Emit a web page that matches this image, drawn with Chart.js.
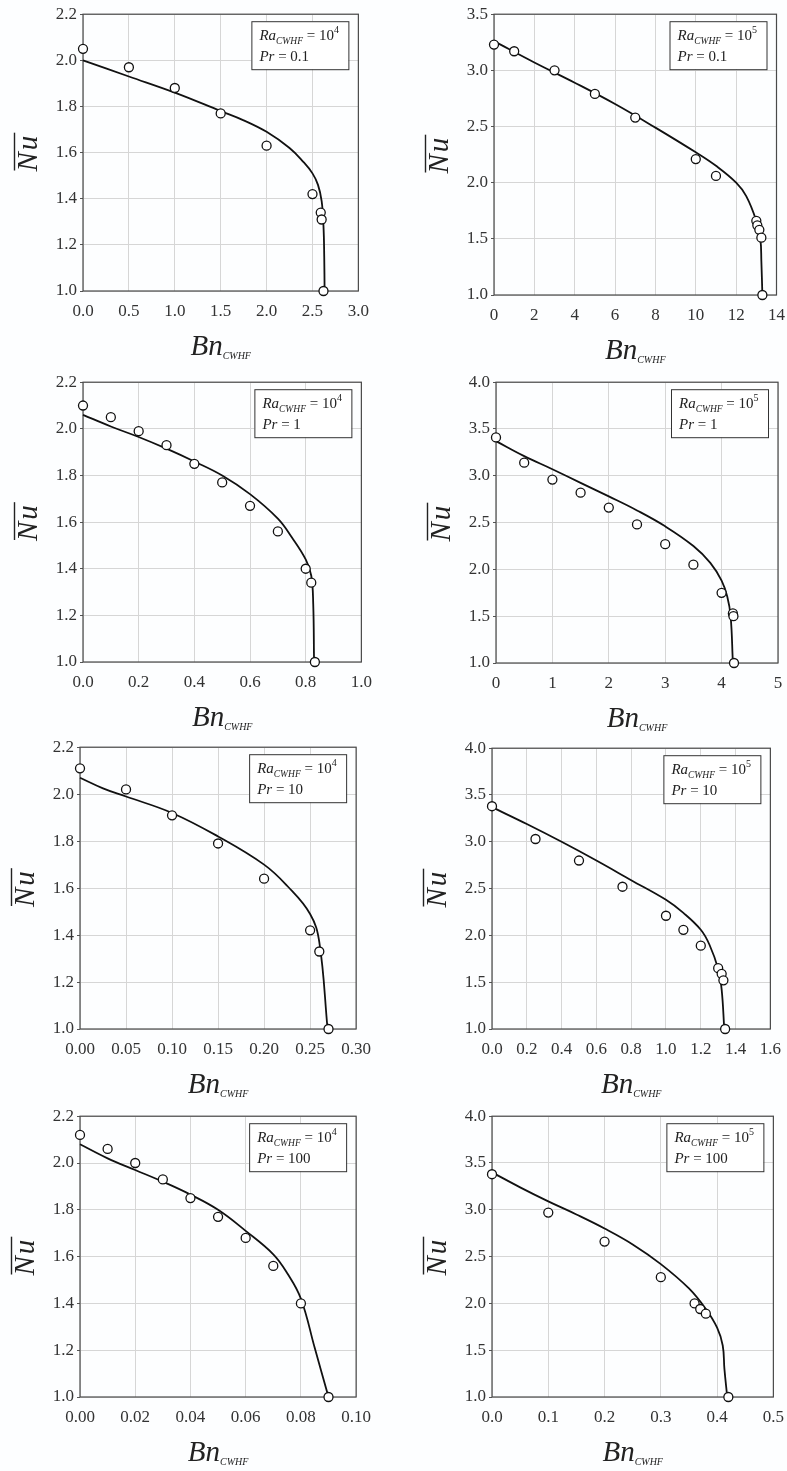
<!DOCTYPE html>
<html>
<head>
<meta charset="utf-8">
<script src="https://cdn.jsdelivr.net/npm/chart.js@4.4.1/dist/chart.umd.min.js"></script>
<style>
	html, body { margin: 0; padding: 0; background: #fdfeff; }
	body { width: 787px; height: 1471px; position: relative; overflow: hidden; }
	canvas { position: absolute; }
</style>
</head>
<body>
<script>
// values: circles = simulation, line = correlation
const bnA = [0, 0.5, 1.0, 1.5, 2.0, 2.5, 2.59, 2.6, 2.62];
const nuA = [2.05, 1.97, 1.88, 1.77, 1.63, 1.42, 1.34, 1.31, 1.0];
const bnFitA = [0, 0.5, 1.0, 1.5, 1.75, 2.0, 2.25, 2.4, 2.5, 2.56, 2.6, 2.62, 2.628, 2.632];
const nuFitA = [2.0, 1.93, 1.86, 1.78, 1.74, 1.69, 1.62, 1.56, 1.51, 1.46, 1.39, 1.28, 1.15, 1.0];

const bnB = [0, 1, 3, 5, 7, 10, 11, 13, 13.05, 13.15, 13.25, 13.3];
const nuB = [3.23, 3.17, 3.0, 2.79, 2.58, 2.21, 2.06, 1.66, 1.62, 1.58, 1.51, 1.0];
const bnFitB = [0, 2, 4, 6, 8, 10, 11, 12, 12.5, 13, 13.2, 13.25, 13.3];
const nuFitB = [3.26, 3.07, 2.89, 2.70, 2.49, 2.27, 2.15, 2.0, 1.88, 1.66, 1.5, 1.3, 1.0];

const bnC = [0, 0.1, 0.2, 0.3, 0.4, 0.5, 0.6, 0.7, 0.8, 0.82, 0.833];
const nuC = [2.10, 2.05, 1.99, 1.93, 1.85, 1.77, 1.67, 1.56, 1.40, 1.34, 1.0];
const bnFitC = [0, 0.1, 0.2, 0.3, 0.4, 0.5, 0.6, 0.7, 0.75, 0.8, 0.82, 0.827, 0.83];
const nuFitC = [2.06, 2.01, 1.965, 1.915, 1.86, 1.80, 1.72, 1.615, 1.535, 1.44, 1.37, 1.25, 1.0];

const bnD = [0, 0.5, 1, 1.5, 2, 2.5, 3, 3.5, 4, 4.2, 4.21, 4.22];
const nuD = [3.41, 3.14, 2.96, 2.82, 2.66, 2.48, 2.27, 2.05, 1.75, 1.53, 1.50, 1.0];
const bnFitD = [0, 0.5, 1, 1.5, 2, 2.5, 3, 3.5, 3.8, 4, 4.1, 4.16, 4.2];
const nuFitD = [3.37, 3.21, 3.07, 2.925, 2.78, 2.63, 2.46, 2.25, 2.07, 1.88, 1.71, 1.5, 1.0];

const bnE = [0, 0.05, 0.10, 0.15, 0.20, 0.25, 0.26, 0.27];
const nuE = [2.11, 2.02, 1.91, 1.79, 1.64, 1.42, 1.33, 1.0];
const bnFitE = [0, 0.025, 0.05, 0.1, 0.15, 0.2, 0.225, 0.25, 0.26, 0.269];
const nuFitE = [2.07, 2.025, 1.99, 1.92, 1.82, 1.70, 1.61, 1.49, 1.37, 1.0];

const bnF = [0, 0.25, 0.5, 0.75, 1.0, 1.1, 1.2, 1.3, 1.32, 1.33, 1.34];
const nuF = [3.38, 3.03, 2.80, 2.52, 2.21, 2.06, 1.89, 1.65, 1.59, 1.52, 1.0];
const bnFitF = [0, 0.2, 0.4, 0.6, 0.8, 1.0, 1.1, 1.2, 1.25, 1.3, 1.32, 1.335];
const nuFitF = [3.37, 3.19, 3.0, 2.80, 2.59, 2.38, 2.24, 2.06, 1.9, 1.64, 1.42, 1.0];

const bnG = [0, 0.01, 0.02, 0.03, 0.04, 0.05, 0.06, 0.07, 0.08, 0.09];
const nuG = [2.12, 2.06, 2.0, 1.93, 1.85, 1.77, 1.68, 1.56, 1.40, 1.0];
const bnFitG = [0, 0.01, 0.02, 0.03, 0.04, 0.05, 0.06, 0.07, 0.075, 0.08, 0.085, 0.09];
const nuFitG = [2.08, 2.02, 1.97, 1.92, 1.865, 1.80, 1.71, 1.61, 1.53, 1.42, 1.21, 1.0];

const bnH = [0, 0.1, 0.2, 0.3, 0.36, 0.37, 0.38, 0.42];
const nuH = [3.38, 2.97, 2.66, 2.28, 2.0, 1.94, 1.89, 1.0];
const bnFitH = [0, 0.05, 0.1, 0.15, 0.2, 0.25, 0.3, 0.35, 0.38, 0.4, 0.41, 0.413, 0.418];
const nuFitH = [3.40, 3.24, 3.09, 2.95, 2.80, 2.63, 2.42, 2.16, 1.94, 1.74, 1.55, 1.3, 1.0];

// tick labels
const xTicksA = ["0.0", "0.5", "1.0", "1.5", "2.0", "2.5", "3.0"];
const xTicksB = ["0", "2", "4", "6", "8", "10", "12", "14"];
const xTicksC = ["0.0", "0.2", "0.4", "0.6", "0.8", "1.0"];
const xTicksD = ["0", "1", "2", "3", "4", "5"];
const xTicksE = ["0.00", "0.05", "0.10", "0.15", "0.20", "0.25", "0.30"];
const xTicksF = ["0.0", "0.2", "0.4", "0.6", "0.8", "1.0", "1.2", "1.4", "1.6"];
const xTicksG = ["0.00", "0.02", "0.04", "0.06", "0.08", "0.10"];
const xTicksH = ["0.0", "0.1", "0.2", "0.3", "0.4", "0.5"];
const yTicksLow = ["1.0", "1.2", "1.4", "1.6", "1.8", "2.0", "2.2"];
const yTicks35 = ["1.0", "1.5", "2.0", "2.5", "3.0", "3.5"];
const yTicks40 = ["1.0", "1.5", "2.0", "2.5", "3.0", "3.5", "4.0"];

// box labels
const raExponents = ["4", "5", "4", "5", "4", "5", "4", "5"];
const prValues = ["0.1", "0.1", "1", "1", "10", "10", "100", "100"];

const panels = [
	{ bn: bnA, nu: nuA, bnFit: bnFitA, nuFit: nuFitA, xTicks: xTicksA, yTicks: yTicksLow },
	{ bn: bnB, nu: nuB, bnFit: bnFitB, nuFit: nuFitB, xTicks: xTicksB, yTicks: yTicks35 },
	{ bn: bnC, nu: nuC, bnFit: bnFitC, nuFit: nuFitC, xTicks: xTicksC, yTicks: yTicksLow },
	{ bn: bnD, nu: nuD, bnFit: bnFitD, nuFit: nuFitD, xTicks: xTicksD, yTicks: yTicks40 },
	{ bn: bnE, nu: nuE, bnFit: bnFitE, nuFit: nuFitE, xTicks: xTicksE, yTicks: yTicksLow },
	{ bn: bnF, nu: nuF, bnFit: bnFitF, nuFit: nuFitF, xTicks: xTicksF, yTicks: yTicks40 },
	{ bn: bnG, nu: nuG, bnFit: bnFitG, nuFit: nuFitG, xTicks: xTicksG, yTicks: yTicksLow },
	{ bn: bnH, nu: nuH, bnFit: bnFitH, nuFit: nuFitH, xTicks: xTicksH, yTicks: yTicks40 },
];

// plot areas on the page: left, top, right, bottom
const plotRects = [
	[83, 13, 361, 291], [494, 13, 777, 295],
	[83, 381, 364, 662], [496, 381, 778, 663],
	[80, 746, 363, 1029], [492, 747, 773, 1029],
	[80, 1115, 363, 1397], [492, 1115, 776, 1397],
];

const SERIF = "'Liberation Serif', 'Times New Roman', serif";
const AXIS_W = 80, AXIS_H = 72, PAD_TOP = 12, PAD_RIGHT = 18;

// draw a row of text pieces, each with own font and vertical shift
function drawRuns(ctx, x, y, runs, align) {
	let total = 0;
	runs.forEach((r) => { ctx.font = r.font; total += ctx.measureText(r.t).width; });
	let cx = align === "center" ? x - total / 2 : x;
	runs.forEach((r) => {
		ctx.font = r.font;
		ctx.fillText(r.t, cx, y + (r.dy || 0));
		cx += ctx.measureText(r.t).width;
	});
}

const decorations = {
	id: "decorations",
	beforeDatasetsDraw(chart) {
		const { ctx, chartArea: a } = chart;
		ctx.save();
		ctx.strokeStyle = "#4a4a4a";
		ctx.lineWidth = 1.2;
		ctx.strokeRect(a.left, a.top, a.right - a.left, a.bottom - a.top);
		ctx.restore();
	},
	afterDraw(chart, args, opts) {
		const { ctx, chartArea: a } = chart;
		const i = opts.index;
		ctx.save();
		ctx.fillStyle = "#222";
		ctx.textBaseline = "alphabetic";

		// legend box
		const bw = 97, bh = 48;
		const bx = a.right - 10 - bw, by = a.top + 7;
		ctx.fillStyle = "#fff";
		ctx.fillRect(bx, by, bw, bh);
		ctx.strokeStyle = "#333";
		ctx.lineWidth = 1;
		ctx.strokeRect(bx + 0.5, by + 0.5, bw, bh);
		ctx.fillStyle = "#222";
		drawRuns(ctx, bx + 8, by + 19, [
			{ t: "Ra", font: "italic 15px " + SERIF },
			{ t: "CWHF", font: "italic 9.5px " + SERIF, dy: 4 },
			{ t: " = 10", font: "15px " + SERIF },
			{ t: raExponents[i], font: "10px " + SERIF, dy: -7 },
		]);
		drawRuns(ctx, bx + 8, by + 40, [
			{ t: "Pr", font: "italic 15px " + SERIF },
			{ t: " = " + prValues[i], font: "15px " + SERIF },
		]);

		// x title
		const cx = (a.left + a.right) / 2;
		drawRuns(ctx, cx, a.bottom + 64, [
			{ t: "Bn", font: "italic 29px " + SERIF },
			{ t: "CWHF", font: "italic 10px " + SERIF, dy: 4 },
		], "center");

		// y title with overbar
		const cy = (a.top + a.bottom) / 2;
		ctx.translate(a.left - 46, cy);
		ctx.rotate(-Math.PI / 2);
		ctx.font = "italic 29px " + SERIF;
		ctx.letterSpacing = "2px";
		const w = ctx.measureText("Nu").width;
		ctx.fillText("Nu", -w / 2, 0);
		ctx.strokeStyle = "#222";
		ctx.lineWidth = 1.4;
		ctx.beginPath();
		ctx.moveTo(-w / 2 + 1, -22.5);
		ctx.lineTo(w / 2 + 1, -22.5);
		ctx.stroke();
		ctx.restore();
	},
};

panels.forEach((p, i) => {
	const [l, t, r, b] = plotRects[i];
	const canvas = document.createElement("canvas");
	const left = l - AXIS_W, top = t - PAD_TOP;
	const width = r + PAD_RIGHT - left, height = b + AXIS_H - top;
	canvas.width = width;
	canvas.height = height;
	canvas.style.left = left + "px";
	canvas.style.top = top + "px";
	canvas.style.width = width + "px";
	canvas.style.height = height + "px";
	document.body.appendChild(canvas);

	const xVals = p.xTicks.map(Number);
	const yVals = p.yTicks.map(Number);

	new Chart(canvas, {
		type: "scatter",
		data: {
			datasets: [
				{
					data: p.bn.map((x, k) => ({ x: x, y: p.nu[k] })),
					showLine: false,
					pointRadius: 4.5,
					pointBorderWidth: 1.3,
					pointBackgroundColor: "#fff",
					pointBorderColor: "#111",
					clip: 8,
					order: 0,
				},
				{
					data: p.bnFit.map((x, k) => ({ x: x, y: p.nuFit[k] })),
					showLine: true,
					pointRadius: 0,
					borderColor: "#111",
					borderWidth: 1.8,
					tension: 0.4,
					clip: 8,
					order: 1,
				},
			],
		},
		options: {
			responsive: false,
			animation: false,
			layout: { padding: { top: PAD_TOP, right: PAD_RIGHT, left: 0, bottom: 0 } },
			plugins: {
				legend: false,
				tooltip: { enabled: false },
				decorations: { index: i },
			},
			scales: {
				x: {
					type: "linear",
					min: xVals[0],
					max: xVals[xVals.length - 1],
					afterBuildTicks: (scale) => { scale.ticks = xVals.map((v) => ({ value: v })); },
					afterFit: (scale) => { scale.height = AXIS_H; },
					border: { display: false },
					grid: { color: "#d6d6d6", lineWidth: 1, drawTicks: false },
					ticks: {
						padding: 10,
						color: "#333",
						font: { family: SERIF, size: 17 },
						maxRotation: 0,
						autoSkip: false,
						callback: (v, k) => p.xTicks[k],
					},
				},
				y: {
					type: "linear",
					min: yVals[0],
					max: yVals[yVals.length - 1],
					afterBuildTicks: (scale) => { scale.ticks = yVals.map((v) => ({ value: v })); },
					afterFit: (scale) => { scale.width = AXIS_W; },
					border: { display: false },
					grid: { color: "#d6d6d6", lineWidth: 1, tickLength: 3, tickColor: "#555" },
					ticks: {
						padding: 3,
						color: "#333",
						font: { family: SERIF, size: 17 },
						autoSkip: false,
						callback: (v, k) => p.yTicks[k],
					},
				},
			},
		},
		plugins: [decorations],
	});
});
</script>
</body>
</html>
